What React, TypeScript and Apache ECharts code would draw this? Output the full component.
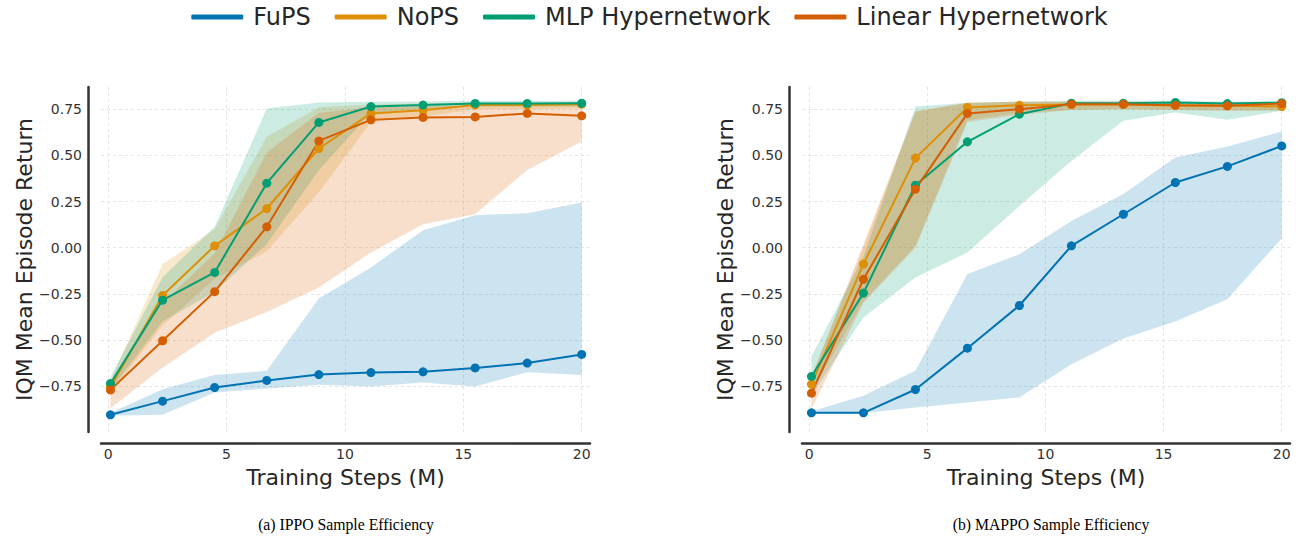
import React, { useEffect, useRef } from "react";
import * as echarts from "echarts";

// Training steps (M) at which each method was evaluated
const steps = [0.1, 2.3, 4.5, 6.7, 8.9, 11.1, 13.3, 15.5, 17.7, 20.0];

const methods = ["FuPS", "NoPS", "MLP Hypernetwork", "Linear Hypernetwork"];
const colors = ["#0173b2", "#de8f05", "#029e73", "#d55e00"];
const bandColors = [
  "rgba(1,115,178,0.2)",
  "rgba(222,143,5,0.2)",
  "rgba(2,158,115,0.2)",
  "rgba(213,94,0,0.2)",
];

// ---- (a) IPPO ----
const ippoFuPS = [-0.905, -0.831, -0.757, -0.719, -0.687, -0.676, -0.672, -0.651, -0.625, -0.578];
const ippoFuPSLo = [-0.91, -0.905, -0.784, -0.762, -0.742, -0.752, -0.73, -0.752, -0.675, -0.69];
const ippoFuPSHi = [-0.895, -0.766, -0.69, -0.667, -0.275, -0.107, 0.095, 0.176, 0.187, 0.245];

const ippoNoPS = [-0.755, -0.259, 0.01, 0.212, 0.537, 0.727, 0.744, 0.772, 0.772, 0.777];
const ippoNoPSLo = [-0.79, -0.42, -0.17, -0.02, 0.3, 0.68, 0.71, 0.75, 0.75, 0.755];
const ippoNoPSHi = [-0.72, -0.089, 0.1, 0.6, 0.76, 0.775, 0.78, 0.785, 0.785, 0.79];

const ippoMLP = [-0.735, -0.284, -0.134, 0.349, 0.678, 0.764, 0.772, 0.781, 0.781, 0.782];
const ippoMLPLo = [-0.77, -0.4, -0.24, 0.02, 0.42, 0.73, 0.75, 0.765, 0.765, 0.765];
const ippoMLPHi = [-0.7, -0.16, 0.113, 0.754, 0.786, 0.79, 0.792, 0.795, 0.795, 0.795];

const ippoLin = [-0.77, -0.504, -0.238, 0.113, 0.578, 0.692, 0.705, 0.708, 0.727, 0.714];
const ippoLinLo = [-0.87, -0.65, -0.46, -0.348, -0.215, -0.026, 0.127, 0.181, 0.421, 0.575];
const ippoLinHi = [-0.73, -0.3, -0.03, 0.515, 0.73, 0.76, 0.765, 0.77, 0.775, 0.775];

// ---- (b) MAPPO ----
const mappoFuPS = [-0.894, -0.894, -0.768, -0.544, -0.313, 0.01, 0.181, 0.353, 0.44, 0.551];
const mappoFuPSLo = [-0.9, -0.897, -0.865, -0.838, -0.811, -0.631, -0.492, -0.4, -0.279, 0.051];
const mappoFuPSHi = [-0.885, -0.802, -0.667, -0.143, -0.035, 0.145, 0.29, 0.488, 0.548, 0.629];

const mappoNoPS = [-0.739, -0.089, 0.485, 0.759, 0.771, 0.775, 0.775, 0.77, 0.77, 0.764];
const mappoNoPSLo = [-0.78, -0.29, 0.01, 0.69, 0.73, 0.745, 0.75, 0.745, 0.745, 0.74];
const mappoNoPSHi = [-0.7, 0.0, 0.735, 0.785, 0.79, 0.79, 0.79, 0.785, 0.785, 0.785];

const mappoMLP = [-0.697, -0.246, 0.338, 0.573, 0.723, 0.782, 0.782, 0.786, 0.78, 0.785];
const mappoMLPLo = [-0.8, -0.378, -0.161, -0.026, 0.226, 0.47, 0.687, 0.732, 0.692, 0.741];
const mappoMLPHi = [-0.589, -0.05, 0.765, 0.785, 0.79, 0.795, 0.795, 0.795, 0.79, 0.795];

const mappoLin = [-0.788, -0.171, 0.317, 0.727, 0.75, 0.777, 0.777, 0.771, 0.768, 0.78];
const mappoLinLo = [-0.874, -0.3, 0.0, 0.68, 0.72, 0.745, 0.75, 0.745, 0.74, 0.745];
const mappoLinHi = [-0.7, 0.02, 0.74, 0.785, 0.79, 0.79, 0.79, 0.79, 0.785, 0.79];

const captions = ["(a) IPPO Sample Efficiency", "(b) MAPPO Sample Efficiency"];

const FONT = '"DejaVu Sans", sans-serif';

function bandSeries(idx: number, gi: number, lo: number[], hi: number[]) {
  return {
    type: "custom",
    name: methods[idx] + " band " + gi,
    xAxisIndex: gi,
    yAxisIndex: gi,
    silent: true,
    z: 1,
    clip: true,
    data: steps.map((x, i) => [x, lo[i], hi[i]]),
    encode: { x: 0, y: [1, 2] },
    renderItem: (params: any, api: any) => {
      if (params.dataIndex !== 0) return null;
      const top = steps.map((x, i) => api.coord([x, hi[i]]));
      const bot = steps.map((x, i) => api.coord([x, lo[i]])).reverse();
      return {
        type: "polygon",
        shape: { points: top.concat(bot) },
        style: { fill: bandColors[idx] },
        silent: true,
      };
    },
  };
}

function lineSeries(idx: number, gi: number, mean: number[]) {
  return {
    type: "line",
    name: methods[idx],
    xAxisIndex: gi,
    yAxisIndex: gi,
    z: 3,
    data: steps.map((x, i) => [x, mean[i]]),
    symbol: "circle",
    symbolSize: 9,
    showSymbol: true,
    lineStyle: { width: 2, color: colors[idx] },
    itemStyle: { color: colors[idx] },
  };
}

const yFmt = (v: number) => (v < 0 ? "\u2212" : "") + Math.abs(v).toFixed(2);

function xAxis(gi: number) {
  return {
    type: "value",
    gridIndex: gi,
    min: -0.3,
    max: 20.35,
    minInterval: 5,
    maxInterval: 5,
    offset: 11,
    axisLine: { show: true, onZero: false, lineStyle: { color: "#333", width: 2.5 } },
    axisTick: { show: false },
    axisLabel: {
      fontSize: 14,
      color: "#333",
      margin: 4,
      fontFamily: FONT,
      showMinLabel: false,
      showMaxLabel: false,
    },
    splitLine: {
      show: true,
      showMinLine: false,
      showMaxLine: false,
      lineStyle: { color: "#e4e4e4", type: [3, 3], width: 1 },
    },
    name: "Training Steps (M)",
    nameLocation: "middle",
    nameGap: 23,
    nameTextStyle: { fontSize: 22, color: "#262626", fontFamily: FONT },
  };
}

function yAxis(gi: number) {
  return {
    type: "value",
    gridIndex: gi,
    min: -0.998,
    max: 0.87,
    minInterval: 0.25,
    maxInterval: 0.25,
    offset: 13,
    axisLine: { show: true, onZero: false, lineStyle: { color: "#333", width: 2.5 } },
    axisTick: { show: false },
    axisLabel: {
      formatter: yFmt,
      fontSize: 14,
      color: "#333",
      margin: 6,
      fontFamily: FONT,
      showMinLabel: false,
      showMaxLabel: false,
    },
    splitLine: {
      show: true,
      showMinLine: false,
      showMaxLine: false,
      lineStyle: { color: "#e4e4e4", type: [3, 3], width: 1 },
    },
    name: "IQM Mean Episode Return",
    nameLocation: "middle",
    nameGap: 50,
    nameTextStyle: { fontSize: 22, color: "#262626", fontFamily: FONT },
  };
}

export default function App() {
  const ref = useRef<HTMLDivElement>(null);

  useEffect(() => {
    document.body.style.margin = "0";
    if (!ref.current) return;
    const chart = echarts.init(ref.current, undefined, { renderer: "svg" });

    const panels = [
      {
        means: [ippoFuPS, ippoNoPS, ippoMLP, ippoLin],
        los: [ippoFuPSLo, ippoNoPSLo, ippoMLPLo, ippoLinLo],
        his: [ippoFuPSHi, ippoNoPSHi, ippoMLPHi, ippoLinHi],
      },
      {
        means: [mappoFuPS, mappoNoPS, mappoMLP, mappoLin],
        los: [mappoFuPSLo, mappoNoPSLo, mappoMLPLo, mappoLinLo],
        his: [mappoFuPSHi, mappoNoPSHi, mappoMLPHi, mappoLinHi],
      },
    ];

    const series: any[] = [];
    panels.forEach((p, gi) => {
      methods.forEach((_, k) => series.push(bandSeries(k, gi, p.los[k], p.his[k])));
    });
    panels.forEach((p, gi) => {
      methods.forEach((_, k) => series.push(lineSeries(k, gi, p.means[k])));
    });

    chart.setOption({
      animation: false,
      backgroundColor: "#ffffff",
      legend: {
        data: methods,
        left: "center",
        top: 0,
        icon: "roundRect",
        itemWidth: 52,
        itemHeight: 5,
        itemGap: 24,
        textStyle: {
          fontSize: 24,
          color: "#262626",
          fontFamily: FONT,
          padding: [0, 0, 0, 5],
        },
      },
      grid: [
        { left: 101, top: 87, width: 489, height: 345 },
        { left: 802, top: 87, width: 488, height: 345 },
      ],
      xAxis: [xAxis(0), xAxis(1)],
      yAxis: [yAxis(0), yAxis(1)],
      series,
      graphic: captions.map((t, i) => ({
        type: "text",
        x: i === 0 ? 346 : 1051,
        y: 524,
        scaleX: 0.9,
        silent: true,
        style: {
          text: t,
          fontSize: 17.5,
          fontFamily: '"Liberation Serif", "Times New Roman", serif',
          fill: "#000",
          align: "center",
          verticalAlign: "middle",
        },
      })),
    });

    return () => chart.dispose();
  }, []);

  return (
    <div
      ref={ref}
      style={{ position: "absolute", left: 0, top: 0, width: 1299, height: 543 }}
    />
  );
}
